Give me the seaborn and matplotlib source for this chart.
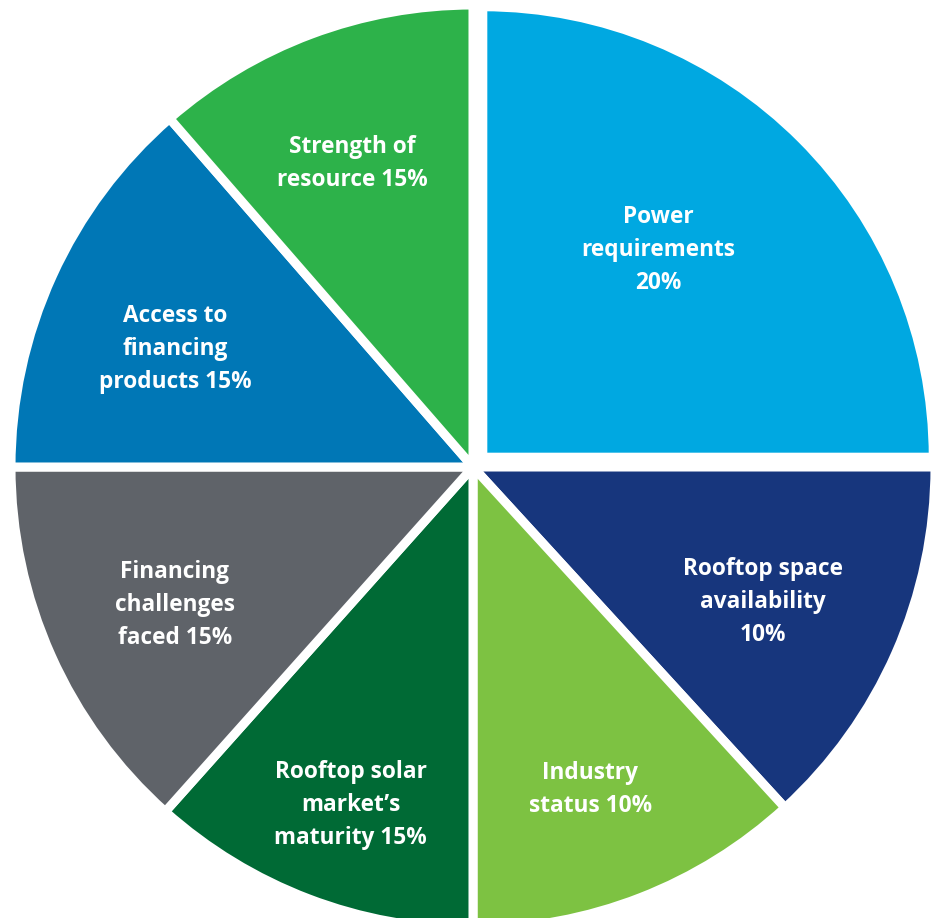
import matplotlib
matplotlib.use("Agg")
import matplotlib.pyplot as plt
import seaborn as sns
import numpy as np

# slices in drawing order (clockwise from 12 o'clock)
categories = ["Power\nrequirements", "Rooftop space\navailability", "Industry\nstatus",
              "Rooftop solar\nmarket\u2019s\nmaturity", "Financing\nchallenges\nfaced",
              "Access to\nfinancing\nproducts", "Strength of\nresource"]
label_pct = [20, 10, 10, 15, 15, 15, 15]
# share of the circle each wedge takes in the picture
slice_share = [25.0, 13.2, 11.8, 11.6, 13.4, 13.6, 11.4]
explode = [0.03, 0, 0, 0, 0, 0, 0]
colors = ["#00a8e1", "#17367d", "#7dc242", "#006a35", "#5f6369", "#0077b6", "#2db24a"]
# label placement: distance from centre (fraction of radius) and angle nudge (deg)
label_r = [0.617, 0.692, 0.742, 0.778, 0.711, 0.694, 0.706]
label_dtheta = [4.5, -1.2, -1.2, 1.0, 0.7, 2.8, 1.2]

sns.set_style("white")
plt.rcParams["font.family"] = ["Open Sans", "DejaVu Sans"]
palette = sns.color_palette(colors)

fig = plt.figure(figsize=(9.35, 9.18), dpi=100)
ax = fig.add_axes([0, 0, 1, 1])

wedges, _ = ax.pie(slice_share, colors=palette, startangle=90, counterclock=False,
                   explode=explode,
                   wedgeprops=dict(edgecolor="white", linewidth=6.5))
# the pulled-out slice is a touch smaller in the original
wedges[0].set_radius(0.975)

texts = []
for name, p in zip(categories, label_pct):
    if name.startswith("Power") or name.startswith("Rooftop space"):
        texts.append(f"{name}\n{p}%")
    else:
        texts.append(f"{name} {p}%")

for w, t, r, dt in zip(wedges, texts, label_r, label_dtheta):
    mid = np.deg2rad((w.theta1 + w.theta2) / 2 + dt)
    ax.text(r * np.cos(mid), r * np.sin(mid), t, ha="center", va="center",
            color="white", fontsize=16.3, fontweight="bold", linespacing=1.5)

# pixel mapping: centre at (473, 467), radius 462 px
s = 462.0
ax.set_xlim(-473 / s, (935 - 473) / s)
ax.set_ylim(-(918 - 467) / s, 467 / s)
ax.set_aspect("auto")
ax.axis("off")

fig.savefig("out.png", dpi=100, facecolor="white")
